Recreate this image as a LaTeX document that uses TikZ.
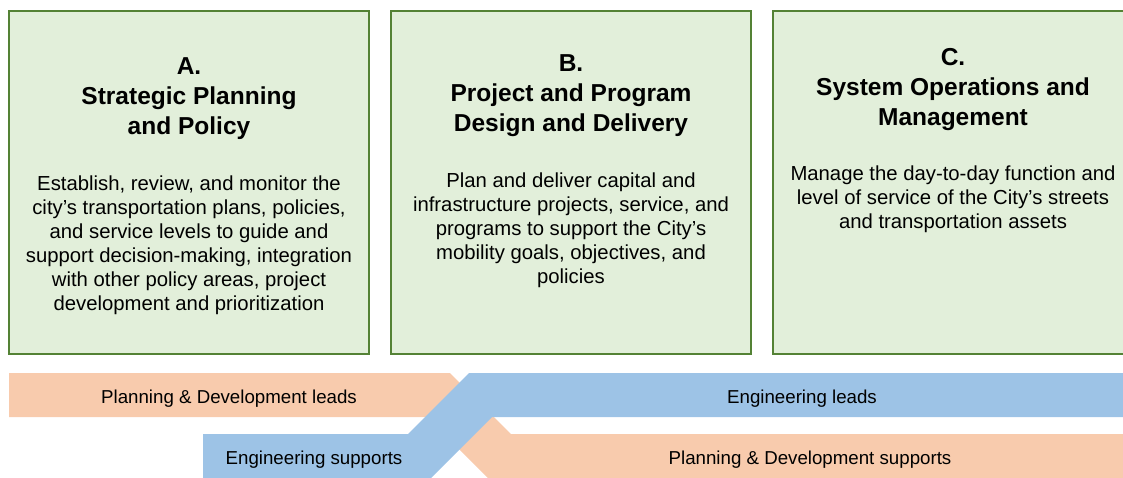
\documentclass[tikz,border=0pt]{standalone}
\usepackage{fontspec}
\setmainfont{Liberation Sans}
\usepackage{tikz}
\usetikzlibrary{positioning}
\definecolor{PanelFill}{RGB}{226,239,218}
\definecolor{PanelEdge}{RGB}{84,130,53}
\definecolor{LeadBlue}{RGB}{157,195,230}
\definecolor{LeadOrange}{RGB}{248,203,173}

\begin{document}
\begin{tikzpicture}[x=1pt, y=-1pt,
  panel/.style={draw=PanelEdge, line width=1.5pt, fill=PanelFill,
    minimum width=360pt, minimum height=343pt, inner sep=0pt, outer sep=0pt},
  paneltitle/.style={anchor=base, align=center, inner sep=0pt,
    font=\fontsize{24.5}{30}\selectfont\bfseries},
  paneltext/.style={anchor=base, align=center, inner sep=0pt,
    font=\fontsize{20.3}{24}\selectfont},
  bandlabel/.style={anchor=base, inner sep=0pt,
    font=\fontsize{18.7}{22}\selectfont}]

% Frame
\useasboundingbox (0,0) rectangle (1123,477);
\clip (0,0) rectangle (1123,477);

% The three panels
\node[panel] (boxA) at (189,182.5) {};
\node[panel, right=22pt of boxA] (boxB) {};
\node[panel, right=22pt of boxB] (boxC) {};

% Panel titles (base = baseline of the last line)
\node[paneltitle] (titleA) at (189,134.5) {A.\\Strategic Planning\\and Policy};
\node[paneltitle] (titleB) at (571,131) {B.\\Project and Program\\Design and Delivery};
\node[paneltitle] (titleC) at (953,125) {C.\\System Operations and\\Management};

% Panel texts
\node[paneltext] (textA) at (189,310.5) {Establish, review, and monitor the\\
  city’s transportation plans, policies,\\and service levels to guide and\\
  support decision-making, integration\\with other policy areas, project\\
  development and prioritization};
\node[paneltext] (textB) at (571,283) {Plan and deliver capital and\\
  infrastructure projects, service, and\\programs to support the City’s\\
  mobility goals, objectives, and\\policies};
\node[paneltext] (textC) at (953,228) {Manage the day-to-day function and\\
  level of service of the City’s streets\\and transportation assets};

% Lead / support bands
\def \yTop {373}
\def \yMid {417}
\def \yLow {434}
\def \yBot {480}

% orange band, under the blue one
\fill[LeadOrange] (9,\yTop) -- (450,\yTop) -- (511,\yLow) -- (1130,\yLow)
  -- (1130,\yBot) -- (490,\yBot) -- (427,\yMid) -- (9,\yMid) -- cycle;

% blue band
\fill[LeadBlue] (203,\yLow) -- (408,\yLow) -- (469,\yTop) -- (1130,\yTop)
  -- (1130,\yMid) -- (492,\yMid) -- (429,\yBot) -- (203,\yBot) -- cycle;

% Band labels
\node[bandlabel] (planLead) at (229,403.5) {Planning \& Development leads};
\node[bandlabel] (engLead) at (802,403.5) {Engineering leads};
\node[bandlabel] (engSupp) at (314,464.5) {Engineering supports};
\node[bandlabel] (planSupp) at (810,464.5) {Planning \& Development supports};

\end{tikzpicture}
\end{document}
